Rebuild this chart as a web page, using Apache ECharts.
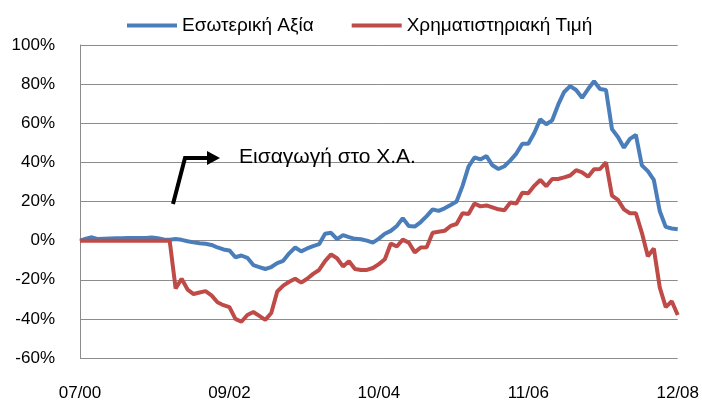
<!DOCTYPE html>
<html>
<head>
<meta charset="utf-8">
<script src="https://cdn.jsdelivr.net/npm/echarts@6/dist/echarts.min.js"></script>
<style>
	html, body { margin: 0; padding: 0; background: #fff; }
	#chart { width: 702px; height: 402px; }
</style>
</head>
<body>
<div id="chart"></div>
<script>
// x ticks every 25 points (07/00 .. 12/08)
var tickLabels = ['07/00', '09/02', '10/04', '11/06', '12/08'];
var seriesNames = ['Εσωτερική Αξία', 'Χρηματιστηριακή Τιμή'];

// Εσωτερική Αξία, % (101 points)
var intrinsic = [
	0, 1.0, 1.7, 0.8, 1.0, 1.1, 1.2, 1.2, 1.3, 1.3,
	1.3, 1.4, 1.6, 1.2, 0.6, 0.5, 0.8, 0.4, -0.3, -0.9,
	-1.3, -1.6, -2.2, -3.5, -4.5, -5.0, -8.5, -7.6, -8.8, -12.5,
	-13.5, -14.5, -13.5, -11.5, -10.3, -6.5, -3.5, -5.5, -4.0, -2.8,
	-1.8, 3.5, 4.0, 0.8, 2.8, 1.8, 0.9, 0.7, 0.0, -1.0,
	1.0, 3.5, 5.0, 7.5, 11.5, 7.5, 7.2, 9.5, 12.5, 16.0,
	15.2, 16.5, 18.2, 20.0, 28.0, 37.8, 42.5, 41.5, 43.2, 38.5,
	36.6, 38.0, 41.0, 44.5, 49.5, 49.5, 55.0, 62.0, 59.5, 61.5,
	69.5, 76.0, 79.0, 77.0, 73.0, 77.5, 81.5, 77.5, 77.0, 57.0,
	53.0, 47.5, 52.0, 54.0, 38.5, 35.5, 31.0, 15.0, 7.0, 6.2,
	5.8
];

// Χρηματιστηριακή Τιμή, % (101 points)
var market = [
	0, 0, 0, 0, 0, 0, 0, 0, 0, 0,
	0, 0, 0, 0, 0, 0, -24.5, -19.5, -25.0, -27.3,
	-26.5, -25.8, -28.0, -31.5, -33.0, -34.0, -40.0, -41.5, -38.0, -36.5,
	-38.5, -40.5, -37.0, -26.0, -23.0, -21.0, -19.5, -21.5, -19.5, -17.0,
	-15.0, -10.5, -7.0, -9.0, -13.2, -10.5, -14.5, -15.0, -15.0, -14.0,
	-12.0, -9.5, -1.5, -3.0, 0.5, -1.0, -6.0, -3.5, -3.4, 4.0,
	4.5, 5.0, 7.5, 8.5, 14.0, 13.6, 19.0, 17.5, 18.0, 17.0,
	16.0, 15.5, 19.5, 19.0, 24.5, 24.2, 28.0, 31.0, 27.8, 31.5,
	31.5, 32.3, 33.3, 36.0, 34.9, 32.7, 36.5, 36.6, 40.0, 23.0,
	20.8, 16.0, 14.0, 14.0, 4.0, -8.0, -4.0, -24.0, -34.0, -31.0,
	-38.0
];

var colors = ['#4A7EBB', '#BE4B48'];

function toPairs(arr) {
	return arr.map(function(v, i) { return [i, v]; });
}

var myChart = echarts.init(document.getElementById('chart'), null, { renderer: 'canvas' });
var option = {
	animation: false,
	color: colors,
	textStyle: { fontFamily: 'Liberation Sans, Arial, sans-serif' },
	legend: {
		data: seriesNames,
		top: 11,
		left: 122,
		icon: 'rect',
		itemWidth: 50,
		itemHeight: 4,
		itemGap: 38,
		textStyle: { fontSize: 19, color: '#000' }
	},
	grid: { left: 80, right: 22, top: 45, bottom: 44 },
	xAxis: {
		type: 'value',
		min: 0,
		max: 100,
		interval: 25,
		axisLine: { show: true, lineStyle: { color: '#8c8c8c', width: 1 } },
		axisTick: { show: false },
		splitLine: { show: false },
		axisLabel: {
			margin: 27,
			fontSize: 17,
			color: '#000',
			formatter: function(v) { return tickLabels[Math.round(v / 25)]; }
		}
	},
	yAxis: {
		type: 'value',
		min: -60,
		max: 100,
		interval: 20,
		axisLine: { show: true, lineStyle: { color: '#8c8c8c', width: 1 } },
		axisTick: { show: false },
		splitLine: { lineStyle: { color: '#8c8c8c', width: 1 } },
		axisLabel: {
			margin: 25,
			fontSize: 17,
			color: '#000',
			formatter: '{value}%'
		}
	},
	series: [{
		name: seriesNames[0],
		type: 'line',
		symbol: 'none',
		lineStyle: { width: 4, color: colors[0] },
		data: toPairs(intrinsic)
	}, {
		name: seriesNames[1],
		type: 'line',
		symbol: 'none',
		lineStyle: { width: 4, color: colors[1] },
		data: toPairs(market)
	}],
	graphic: [{
		type: 'polyline',
		shape: { points: [[173, 204], [185, 158], [208, 158]] },
		style: { stroke: '#000', lineWidth: 4, fill: null },
		z: 10
	}, {
		type: 'polygon',
		shape: { points: [[207, 151], [220, 158], [207, 165]] },
		style: { fill: '#000' },
		z: 10
	}, {
		type: 'text',
		left: 239,
		top: 147,
		style: {
			text: 'Εισαγωγή στο Χ.Α.',
			fontSize: 21,
			fontFamily: 'Liberation Sans, Arial, sans-serif',
			fill: '#000'
		},
		z: 10
	}]
};
myChart.setOption(option);
</script>
</body>
</html>
